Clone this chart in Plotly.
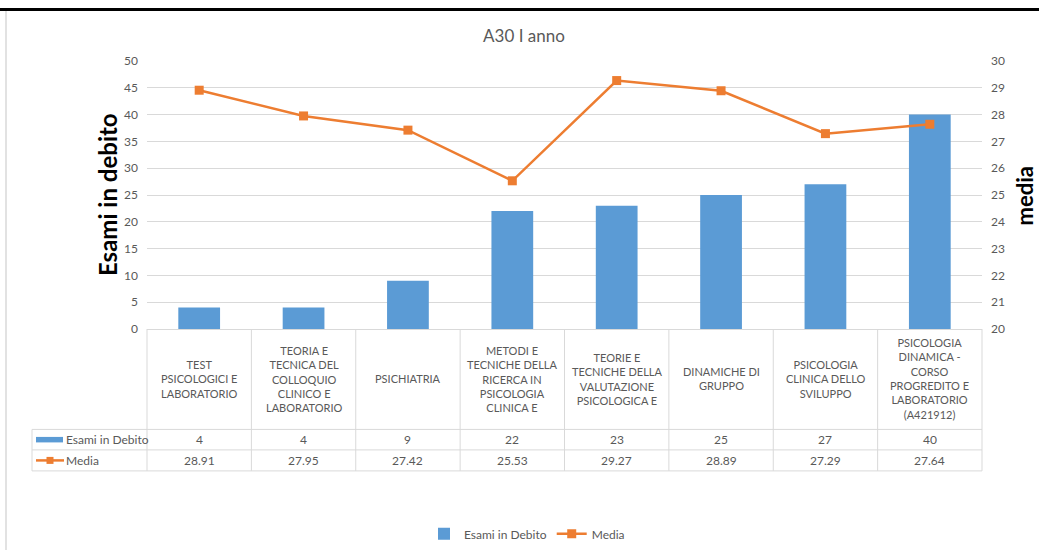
import plotly.graph_objects as go

# ---------------- data ----------------
categories = [
    "TEST<br>PSICOLOGICI E<br>LABORATORIO",
    "TEORIA E<br>TECNICA DEL<br>COLLOQUIO<br>CLINICO E<br>LABORATORIO",
    "PSICHIATRIA",
    "METODI E<br>TECNICHE DELLA<br>RICERCA IN<br>PSICOLOGIA<br>CLINICA E",
    "TEORIE E<br>TECNICHE DELLA<br>VALUTAZIONE<br>PSICOLOGICA E",
    "DINAMICHE DI<br>GRUPPO",
    "PSICOLOGIA<br>CLINICA DELLO<br>SVILUPPO",
    "PSICOLOGIA<br>DINAMICA -<br>CORSO<br>PROGREDITO E<br>LABORATORIO<br>(A421912)",
]
esami_in_debito = [4, 4, 9, 22, 23, 25, 27, 40]
media = [28.91, 27.95, 27.42, 25.53, 29.27, 28.89, 27.29, 27.64]
media_labels = ["28.91", "27.95", "27.42", "25.53", "29.27", "28.89", "27.29", "27.64"]
left_ticks = [0, 5, 10, 15, 20, 25, 30, 35, 40, 45, 50]
right_ticks = [20, 21, 22, 23, 24, 25, 26, 27, 28, 29, 30]
series_names = ["Esami in Debito", "Media"]
chart_title = "A30 I anno"
left_title = "Esami in debito"
right_title = "media"

# ---------------- layout geometry ----------------
W = 1039
H_IMG = 550
H = 560                      # page height; the photograph maps it onto 550 rows
VS = H_IMG / H
L, R = 147, 982
T, B = round(60 / VS), round(328 / VS)
BLUE = "#5B9BD5"
ORANGE = "#ED7D31"
GRID = "#d9d9d9"
TXT = "#595959"
FONT = "Lato"


def px(X):
    return (X - L) / (R - L)


def py(Y):
    # Y given in target-picture pixels
    return (B - Y / VS) / (B - T)


fig = go.Figure()
fig.add_trace(go.Bar(x=categories, y=esami_in_debito, name=series_names[0],
                     marker=dict(color=BLUE, line=dict(width=0)), yaxis="y"))
fig.add_trace(go.Scatter(x=categories, y=media, name=series_names[1],
                         mode="lines+markers",
                         line=dict(color=ORANGE, width=2.5),
                         marker=dict(symbol="square", size=9, color=ORANGE),
                         yaxis="y2"))

shapes = []
annotations = []

# table horizontal lines
for Y in [428.5, 449, 470]:
    shapes.append(dict(type="line", xref="paper", yref="paper",
                       x0=px(32), x1=px(982), y0=py(Y), y1=py(Y),
                       line=dict(color=GRID, width=1)))
# table left border of row labels
shapes.append(dict(type="line", xref="paper", yref="paper",
                   x0=px(32), x1=px(32), y0=py(428.5), y1=py(470),
                   line=dict(color=GRID, width=1)))
# outer column edges
for xp in [0, 1]:
    shapes.append(dict(type="line", xref="paper", yref="paper",
                       x0=xp, x1=xp, y0=0, y1=py(470),
                       line=dict(color=GRID, width=1)))
# interior column separators on category scale
for i in range(len(categories) - 1):
    shapes.append(dict(type="line", xref="x", yref="paper",
                       x0=i + 0.5, x1=i + 0.5, y0=0, y1=py(470),
                       line=dict(color=GRID, width=1)))

# row legend keys
shapes.append(dict(type="rect", xref="paper", yref="paper",
                   x0=px(36), x1=px(63), y0=py(441.5), y1=py(436),
                   fillcolor=BLUE, line=dict(width=0)))
shapes.append(dict(type="line", xref="paper", yref="paper",
                   x0=px(36), x1=px(64), y0=py(459.5), y1=py(459.5),
                   line=dict(color=ORANGE, width=2.5)))
shapes.append(dict(type="rect", xref="paper", yref="paper",
                   x0=px(46.5), x1=px(53.5), y0=py(463), y1=py(456),
                   fillcolor=ORANGE, line=dict(width=0)))

# top black rule and left frame
shapes.append(dict(type="line", xref="paper", yref="paper",
                   x0=px(0), x1=px(W), y0=py(8.5), y1=py(8.5),
                   line=dict(color="black", width=3)))
shapes.append(dict(type="line", xref="paper", yref="paper",
                   x0=px(6), x1=px(6), y0=py(10), y1=py(H_IMG),
                   line=dict(color=GRID, width=1.5)))

# table texts
for i, c in enumerate(categories):
    annotations.append(dict(x=c, xref="x", y=py(378), yref="paper",
                            text=c, showarrow=False, xanchor="center", yanchor="middle",
                            align="center", font=dict(size=11, color=TXT, family=FONT)))
    annotations.append(dict(x=c, xref="x", y=py(439), yref="paper",
                            text=str(esami_in_debito[i]), showarrow=False,
                            xanchor="center", yanchor="middle",
                            font=dict(size=12, color=TXT, family=FONT)))
    annotations.append(dict(x=c, xref="x", y=py(459.5), yref="paper",
                            text=media_labels[i], showarrow=False,
                            xanchor="center", yanchor="middle",
                            font=dict(size=12, color=TXT, family=FONT)))
annotations.append(dict(x=px(64), xref="paper", y=py(439), yref="paper",
                        text=series_names[0], showarrow=False, xanchor="left", yanchor="middle",
                        font=dict(size=12, color=TXT, family=FONT)))
annotations.append(dict(x=px(64), xref="paper", y=py(459.5), yref="paper",
                        text=series_names[1], showarrow=False, xanchor="left", yanchor="middle",
                        font=dict(size=12, color=TXT, family=FONT)))

# axis titles
annotations.append(dict(x=px(107), xref="paper", y=py(194), yref="paper",
                        text=left_title, textangle=-90, showarrow=False,
                        xanchor="center", yanchor="middle",
                        font=dict(size=24, color="black", family=FONT, weight="bold")))
annotations.append(dict(x=px(1024.5), xref="paper", y=py(195), yref="paper",
                        text=right_title, textangle=-90, showarrow=False,
                        xanchor="center", yanchor="middle",
                        font=dict(size=22, color="black", family=FONT, weight="bold")))

fig.update_layout(
    width=W, height=H, autosize=False,
    margin=dict(l=L, r=W - R, t=T, b=H - B, pad=0),
    paper_bgcolor="white", plot_bgcolor="white",
    font=dict(family=FONT, color=TXT, size=12),
    title=dict(text=chart_title, x=px(524), xref="paper", xanchor="center",
               y=1 - (35 / VS) / H, yref="container", yanchor="middle",
               font=dict(size=17, color=TXT, family=FONT)),
    bargap=0.6,
    showlegend=True,
    legend=dict(orientation="h", x=px(527), xanchor="center", y=py(533), yanchor="middle",
                font=dict(size=12, color=TXT, family=FONT), bgcolor="rgba(0,0,0,0)",
                itemwidth=30, tracegroupgap=0),
    xaxis=dict(type="category", range=[-0.5, len(categories) - 0.5],
               showticklabels=False, showgrid=False, ticks="",
               showline=True, linecolor=GRID, linewidth=1, zeroline=False, fixedrange=True),
    yaxis=dict(range=[0, 50], tickvals=left_ticks, showgrid=True, gridcolor=GRID, gridwidth=1,
               zeroline=False, showline=False, ticks="", ticklabelstandoff=8,
               tickfont=dict(size=12, color=TXT, family=FONT)),
    yaxis2=dict(overlaying="y", side="right", range=[20, 30], tickvals=right_ticks,
                showgrid=False, zeroline=False, showline=False, ticks="", ticklabelstandoff=8,
                tickfont=dict(size=12, color=TXT, family=FONT)),
    shapes=shapes,
    annotations=annotations,
)

post = (
    "document.documentElement.style.margin='0';"
    "document.body.style.margin='0';"
    "var d=document.getElementById('{plot_id}');"
    "d.style.position='absolute';d.style.left='0';d.style.top='0';"
)
fig.write_html("out.html", config={"displayModeBar": False}, post_script=post)
